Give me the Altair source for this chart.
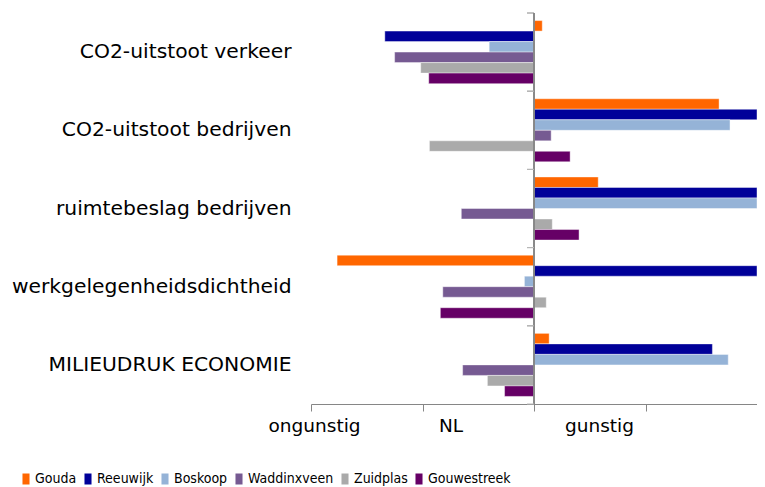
import altair as alt
import pandas as pd

categories = ["CO2-uitstoot verkeer", "CO2-uitstoot bedrijven", "ruimtebeslag bedrijven",
              "werkgelegenheidsdichtheid", "MILIEUDRUK ECONOMIE"]
series = ["Gouda", "Reeuwijk", "Boskoop", "Waddinxveen", "Zuidplas", "Gouwestreek"]
colors = ["#FF6600", "#000099", "#95B3D7", "#765A92", "#AAAAAA", "#660066"]

gouda = [0.037, 0.830, 0.288, -0.883, 0.068]
reeuwijk = [-0.669, 1.0, 1.0, 1.0, 0.800]
boskoop = [-0.201, 0.879, 1.0, -0.043, 0.871]
waddinxveen = [-0.625, 0.077, -0.326, -0.409, -0.320]
zuidplas = [-0.508, -0.469, 0.082, 0.055, -0.209]
gouwestreek = [-0.472, 0.162, 0.202, -0.420, -0.132]

x_tick_values = [-1, -0.5, 0, 0.5, 1]
x_tick_labels = ["ongunstig", "NL", "gunstig"]

series_values = [gouda, reeuwijk, boskoop, waddinxveen, zuidplas, gouwestreek]
rows = []
for s, vals in zip(series, series_values):
    for c, v in zip(categories, vals):
        rows.append({"cat": c, "series": s, "value": v})
df = pd.DataFrame(rows)
cat_df = pd.DataFrame({"cat": categories})

FONT = "DejaVu Sans"
GRAY = "#868686"

yscale = alt.Scale(domain=categories, paddingInner=0, paddingOuter=0)
xscale = alt.Scale(domain=[-1, 1], nice=False, zero=False)

label_expr = ("datum.value == -1 ? '%s' : datum.value == -0.5 ? '%s' : datum.value == 0 ? '%s' : ''"
              % tuple(x_tick_labels))

bars = alt.Chart(df).mark_bar(clip=True, stroke="white", strokeWidth=0.6, strokeOpacity=0.7).encode(
    x=alt.X("value:Q", scale=xscale,
            axis=alt.Axis(values=x_tick_values, labelExpr=label_expr, title=None, grid=False,
                          domainColor=GRAY, tickColor=GRAY, tickSize=7, labelFontSize=18.5,
                          labelFont=FONT, labelColor="black", labelPadding=5, labelFlush=False,
                          labelOffset={"condition": [{"test": "datum.value == -1", "value": 3},
                                                     {"test": "datum.value == -0.5", "value": 28}],
                                       "value": 65})),
    y=alt.Y("cat:N", scale=yscale,
            axis=alt.Axis(title=None, domain=False, ticks=False, tickSize=0, labelPadding=20,
                          labelFontSize=20.3, labelFont=FONT, labelColor="black", labelLimit=500)),
    yOffset=alt.YOffset("series:N", scale=alt.Scale(domain=series, paddingInner=0, paddingOuter=0.72)),
    color=alt.Color("series:N", scale=alt.Scale(domain=series, range=colors), title=None,
                    legend=alt.Legend(orient="none", direction="horizontal", legendX=-292, legendY=459,
                                      symbolType="M-0.64,-1H0.64V1H-0.64Z", symbolSize=121,
                                      symbolStrokeWidth=0, labelFontSize=14,
                                      labelFont="DejaVu Sans Condensed, DejaVu Sans",
                                      labelColor="black", labelOffset=2, columnPadding=4)),
)

zero_rule = alt.Chart(cat_df).mark_rule(color=GRAY, strokeWidth=1).encode(
    x=alt.datum(0))

ticks_top = alt.Chart(cat_df).mark_rule(color=GRAY, strokeWidth=1, xOffset=-7).encode(
    x=alt.datum(0), x2=alt.datum(0),
    y=alt.Y("cat:N", scale=yscale, bandPosition=0),
)
ticks_bottom = alt.Chart(cat_df).mark_rule(color="#BBBBBB", strokeWidth=1, xOffset=-7).encode(
    x=alt.datum(0), x2=alt.datum(0),
    y=alt.Y("cat:N", scale=yscale, bandPosition=1),
)

chart = alt.layer(bars, zero_rule, ticks_top, ticks_bottom).properties(
    width=446, height=391,
    autosize=alt.AutoSizeParams(type="none"),
    padding={"left": 303, "top": 5, "right": 0, "bottom": 85},
).configure(font=FONT).configure_view(stroke=None)

chart.save("out.html", embed_options={"renderer": "svg", "actions": False})
